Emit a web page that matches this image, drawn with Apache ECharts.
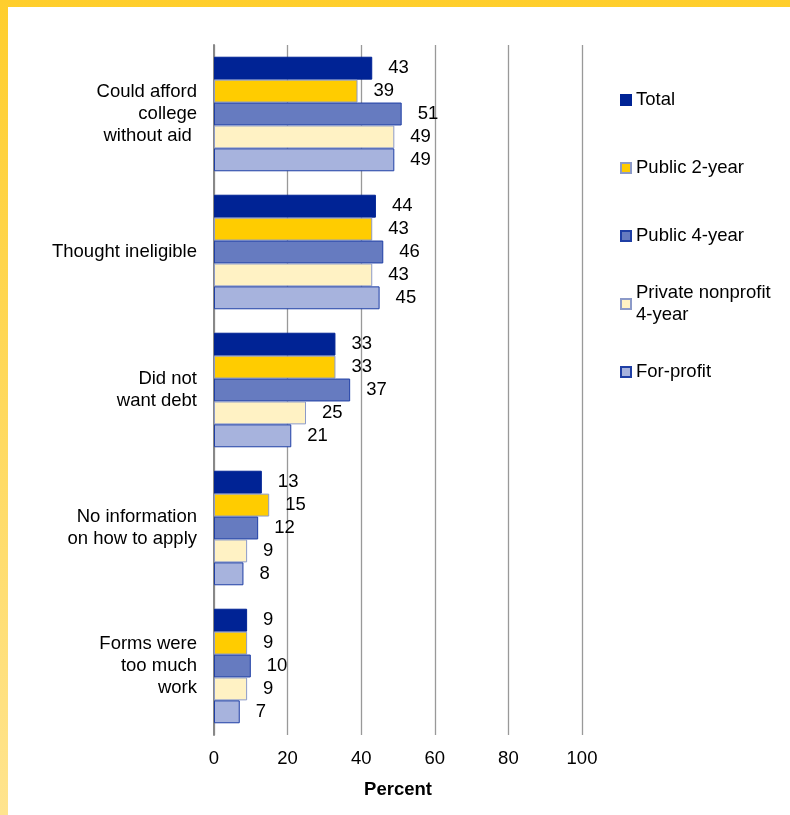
<!DOCTYPE html>
<html>
<head>
<meta charset="utf-8">
<script src="https://cdn.jsdelivr.net/npm/echarts@6/dist/echarts.min.js"></script>
<style>
  html, body { margin: 0; padding: 0; background: #fff; }
  #frame {
    position: relative; width: 790px; height: 815px;
    background: linear-gradient(to bottom, #FFCE2C, #FFE48E);
  }
  #echart {
    position: absolute; left: 8px; top: 7px; width: 782px; height: 808px;
    background: #fff;
  }
</style>
</head>
<body>
<div id="frame"><div id="echart"></div></div>
<script>
var categories = ['Could afford\ncollege\nwithout aid ', 'Thought ineligible', 'Did not\nwant debt', 'No information\non how to apply', 'Forms were\ntoo much\nwork'];
var seriesNames = ['Total', 'Public 2-year', 'Public 4-year', 'Private nonprofit\n4-year', 'For-profit'];
var total = [43, 44, 33, 13, 9];
var public2 = [39, 43, 33, 15, 9];
var public4 = [51, 46, 37, 12, 10];
var privateNp = [49, 43, 25, 9, 9];
var forProfit = [49, 45, 21, 8, 7];
var xTicks = [0, 20, 40, 60, 80, 100];

var values = [total, public2, public4, privateNp, forProfit];
var fills = ['#002395', '#FFCC00', '#667BC0', '#FFF2C4', '#A7B3DD'];
var borders = ['#002395', '#8C9AC8', '#1F3FA5', '#8C9AC8', '#1F3FA5'];
var legendTops = [82, 150, 218, 264, 354];

var myChart = echarts.init(document.getElementById('echart'));
var font = 'Liberation Sans, Arial, sans-serif';
var fs = 18.5;

var series = [];
var legends = [];
for (var i = 0; i < values.length; i++) {
    series.push({
        name: seriesNames[i],
        type: 'bar',
        data: values[i],
        barGap: '0%',
        barCategoryGap: '17%',
        itemStyle: {color: fills[i], borderColor: borders[i], borderWidth: 1},
        label: {
            show: true,
            position: 'right',
            distance: 16,
            color: '#000',
            fontSize: fs,
            fontFamily: font
        },
        animation: false
    });
    legends.push({
        data: [seriesNames[i]],
        left: 612,
        top: legendTops[i],
        padding: 0,
        itemWidth: 10,
        itemHeight: 10,
        icon: 'rect',
        selectedMode: false,
        textStyle: {
            color: '#000',
            fontSize: fs,
            fontFamily: font,
            lineHeight: 22,
            padding: i === 3 ? [22, 0, 0, 0] : 0
        }
    });
}

var option = {
    backgroundColor: '#fff',
    legend: legends,
    grid: {left: 206, right: 208, top: 38, bottom: 80},
    xAxis: {
        type: 'value',
        min: xTicks[0],
        max: xTicks[xTicks.length - 1],
        interval: 20,
        name: 'Percent',
        nameLocation: 'middle',
        nameGap: 45,
        nameTextStyle: {color: '#000', fontSize: fs, fontWeight: 'bold', fontFamily: font},
        axisLine: {show: false},
        axisTick: {show: false},
        axisLabel: {color: '#000', fontSize: fs, fontFamily: font, margin: 14},
        splitLine: {show: true, lineStyle: {color: '#999', width: 1.3}}
    },
    yAxis: {
        type: 'category',
        data: categories,
        inverse: true,
        axisLine: {show: true, lineStyle: {color: '#888', width: 2}},
        axisTick: {show: false},
        axisLabel: {color: '#000', fontSize: fs, fontFamily: font, margin: 17, lineHeight: 22, align: 'right'}
    },
    series: series
};
myChart.setOption(option);
</script>
</body>
</html>
